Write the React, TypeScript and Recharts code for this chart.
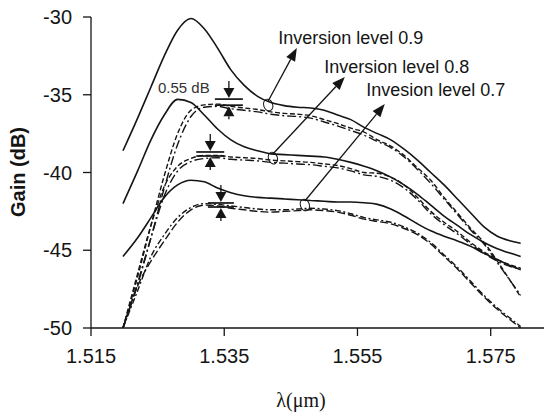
import { LineChart, Line, XAxis, YAxis } from "recharts";

// wavelength grid (µm) shared by every curve
const wavelength = [
  1.5198, 1.522, 1.524, 1.526, 1.528, 1.53, 1.532, 1.534, 1.536, 1.538, 1.54,
  1.542, 1.544, 1.546, 1.548, 1.55, 1.552, 1.554, 1.556, 1.558, 1.56, 1.562,
  1.564, 1.566, 1.568, 1.57, 1.572, 1.574, 1.576, 1.578, 1.5795,
];

// gain (dB), solid = model, dashed / dash-dot = the two comparison curves
const solid09 = [
  -38.6, -36.5, -34.5, -32.5, -30.85, -30.1, -30.75, -32.0, -33.4, -34.4, -35.1,
  -35.5, -35.7, -35.8, -35.85, -36.0, -36.3, -36.6, -37.1, -37.5, -37.9, -38.5,
  -39.2, -40.0, -40.8, -41.7, -42.6, -43.5, -44.1, -44.4, -44.55,
];
const dashed09 = [
  -50.0, -46.7, -43.4, -40.2, -37.5, -36.0, -35.65, -35.6, -35.75, -35.85,
  -35.95, -36.1, -36.2, -36.25, -36.35, -36.6, -36.85, -37.15, -37.4, -37.9,
  -38.3, -38.9, -39.7, -40.5, -41.6, -42.6, -43.6, -44.5, -45.7, -47.0, -48.0,
];
const dashDot09 = [
  -50.0, -47.2, -44.2, -41.0, -38.2, -36.4, -35.8, -35.75, -35.9, -36.0, -36.1,
  -36.25, -36.35, -36.4, -36.5, -36.75, -37.0, -37.3, -37.6, -38.0, -38.4,
  -39.0, -39.8, -40.7, -41.7, -42.7, -43.7, -44.6, -45.8, -47.0, -47.9,
];

const solid08 = [
  -42.0, -39.9, -37.9, -36.3, -35.3, -35.5, -36.3, -37.2, -37.9, -38.35, -38.6,
  -38.8, -38.85, -38.9, -38.95, -39.0, -39.15, -39.35, -39.6, -39.9, -40.3,
  -40.8, -41.4, -42.1, -42.8, -43.4, -44.0, -44.5, -44.9, -45.2, -45.4,
];
const dashed08 = [
  -50.0, -46.5, -43.4, -40.9, -39.6, -39.1, -38.9, -38.9, -39.0, -39.05, -39.1,
  -39.2, -39.25, -39.3, -39.35, -39.45, -39.55, -39.75, -40.0, -40.05, -40.3,
  -40.8, -41.6, -42.5, -43.2, -43.8, -44.5, -45.1, -45.6, -45.95, -46.15,
];
const dashDot08 = [
  -50.0, -47.1, -44.2, -41.5, -39.9, -39.3, -39.1, -39.05, -39.15, -39.2,
  -39.25, -39.35, -39.4, -39.45, -39.5, -39.6, -39.7, -39.9, -40.15, -40.25,
  -40.5, -41.0, -41.75, -42.65, -43.35, -43.95, -44.6, -45.2, -45.7, -46.05,
  -46.2,
];

const solid07 = [
  -45.4, -44.2, -42.9, -41.6, -40.8, -40.5, -40.6, -41.0, -41.3, -41.5, -41.6,
  -41.65, -41.7, -41.75, -41.8, -41.85, -41.9, -41.9, -41.95, -42.05, -42.35,
  -42.8, -43.3, -43.75, -44.1, -44.4, -44.75, -45.2, -45.6, -46.0, -46.25,
];
const dashed07 = [
  -50.0, -47.3, -45.7, -44.4, -43.2, -42.4, -42.1, -42.15, -42.3, -42.4, -42.5,
  -42.55, -42.5, -42.45, -42.4, -42.45, -42.55, -42.75, -43.0, -43.15, -43.3,
  -43.6, -44.0, -44.6, -45.4, -46.2, -47.1, -48.0, -48.8, -49.5, -50.0,
];
const dashDot07 = [
  -50.0, -47.6, -45.4, -44.0, -42.9, -42.25, -42.0, -42.05, -42.15, -42.25,
  -42.35, -42.4, -42.4, -42.35, -42.3, -42.35, -42.45, -42.65, -42.9, -43.05,
  -43.2, -43.5, -43.9, -44.5, -45.3, -46.1, -47.0, -47.9, -48.7, -49.4, -49.9,
];

const xTicks = [1.515, 1.535, 1.555, 1.575];
const yTicks = [-50, -45, -40, -35, -30];

// 0.55 dB style spread markers: x position, upper and lower bar (dB)
const spreadMarks = [
  { x: 1.5357, hi: -35.28, lo: -35.67, half: 14 },
  { x: 1.5329, hi: -38.68, lo: -38.94, half: 14 },
  { x: 1.5345, hi: -41.96, lo: -42.22, half: 13 },
];

// callouts: ring on the curves, arrow tip, label anchor
const callouts = [
  { label: "Inversion level 0.9", at: [1.5416, -35.66], tip: [1.5459, -31.99], text: [1.5431, -31.74] },
  { label: "Inversion level 0.8", at: [1.5423, -39.07], tip: [1.5531, -33.86], text: [1.55, -33.6] },
  { label: "Invesion level 0.7", at: [1.5471, -42.09], tip: [1.5591, -35.6], text: [1.5563, -35.08] },
];

const W = 544;
const H = 417;
const Y_AXIS_W = 91;
const X_AXIS_H = 89;
const TOP = 17;
const X_DOMAIN: [number, number] = [1.515, 1.583];
const Y_DOMAIN: [number, number] = [-50, -30];

const PLOT_L = Y_AXIS_W;
const PLOT_R = W;
const PLOT_T = TOP;
const PLOT_B = H - X_AXIS_H;

const px = (x: number) =>
  PLOT_L + ((x - X_DOMAIN[0]) / (X_DOMAIN[1] - X_DOMAIN[0])) * (PLOT_R - PLOT_L);
const py = (y: number) =>
  PLOT_T + ((Y_DOMAIN[1] - y) / (Y_DOMAIN[1] - Y_DOMAIN[0])) * (PLOT_B - PLOT_T);

const rows = wavelength.map((x, i) => ({
  x,
  s09: solid09[i],
  d09: dashed09[i],
  dd09: dashDot09[i],
  s08: solid08[i],
  d08: dashed08[i],
  dd08: dashDot08[i],
  s07: solid07[i],
  d07: dashed07[i],
  dd07: dashDot07[i],
}));

const INK = "#151515";
const SANS = "'Liberation Sans', Arial, sans-serif";

const series = [
  { key: "s09", dash: undefined },
  { key: "d09", dash: "5 2.5" },
  { key: "dd09", dash: "9 3 2 3" },
  { key: "s08", dash: undefined },
  { key: "d08", dash: "5 2.5" },
  { key: "dd08", dash: "9 3 2 3" },
  { key: "s07", dash: undefined },
  { key: "d07", dash: "8 3" },
  { key: "dd07", dash: "6 2.5 2 2.5" },
];

function Arrow({ x1, y1, x2, y2, head = 10, wide = 4 }: { x1: number; y1: number; x2: number; y2: number; head?: number; wide?: number }) {
  const dx = x2 - x1;
  const dy = y2 - y1;
  const len = Math.hypot(dx, dy);
  const ux = dx / len;
  const uy = dy / len;
  const bx = x2 - ux * head;
  const by = y2 - uy * head;
  return (
    <g>
      <line x1={x1} y1={y1} x2={bx} y2={by} stroke={INK} strokeWidth={1.3} />
      <polygon
        points={`${x2},${y2} ${bx - uy * wide},${by + ux * wide} ${bx + uy * wide},${by - ux * wide}`}
        fill={INK}
      />
    </g>
  );
}

function Annotations() {
  return (
    <svg width={W} height={H} style={{ position: "absolute", left: 0, top: 0, pointerEvents: "none" }}>
      <text
        transform={`translate(25, 172) rotate(-90)`}
        textAnchor="middle"
        fontFamily={SANS}
        fontWeight="bold"
        fontSize={20}
        fill={INK}
      >
        Gain (dB)
      </text>
      <text x={301} y={407} textAnchor="middle" fontFamily="'Liberation Serif', 'Times New Roman', serif" fontSize={20} fill={INK}>
        λ(μm)
      </text>

      <text x={158} y={93} fontFamily={SANS} fontSize={15} fill="#333">
        0.55 dB
      </text>
      {spreadMarks.map((m, i) => {
        const cx = px(m.x);
        const yh = py(m.hi);
        const yl = py(m.lo);
        return (
          <g key={i}>
            <line x1={cx - m.half} x2={cx + m.half} y1={yh} y2={yh} stroke={INK} strokeWidth={1.7} />
            <line x1={cx - m.half} x2={cx + m.half} y1={yl} y2={yl} stroke={INK} strokeWidth={1.7} />
            <Arrow x1={cx} y1={yh - 18} x2={cx} y2={yh - 1} head={10} wide={5.5} />
            <Arrow x1={cx} y1={yl + 14} x2={cx} y2={yl + 1} head={10} wide={5.5} />
          </g>
        );
      })}

      {callouts.map((c) => {
        const ex = px(c.at[0]);
        const ey = py(c.at[1]);
        const tx = px(c.tip[0]);
        const ty = py(c.tip[1]);
        return (
          <g key={c.label}>
            <ellipse cx={ex} cy={ey} rx={4.5} ry={6} fill="none" stroke={INK} strokeWidth={1} transform={`rotate(-20 ${ex} ${ey})`} />
            <Arrow x1={ex} y1={ey - 4} x2={tx} y2={ty} head={13} wide={5} />
            <text x={px(c.text[0])} y={py(c.text[1])} fontFamily={SANS} fontSize={18} fill={INK}>
              {c.label}
            </text>
          </g>
        );
      })}
    </svg>
  );
}

export default function App() {
  return (
    <div style={{ position: "absolute", left: 0, top: 0, width: W, height: H, background: "#fff" }}>
      <LineChart width={W} height={H} data={rows} margin={{ top: TOP, right: 0, bottom: 0, left: 0 }}>
        <XAxis
          dataKey="x"
          type="number"
          domain={X_DOMAIN}
          allowDataOverflow
          ticks={xTicks}
          tickFormatter={(v: number) => v.toFixed(3)}
          height={X_AXIS_H}
          tickSize={8}
          tickMargin={13}
          axisLine={{ stroke: INK, strokeWidth: 1.3 }}
          tickLine={{ stroke: INK, strokeWidth: 1.3 }}
          tick={{ fill: INK, fontSize: 20, fontFamily: SANS }}
        />
        <YAxis
          type="number"
          domain={Y_DOMAIN}
          allowDataOverflow
          ticks={yTicks}
          width={Y_AXIS_W}
          tickSize={8}
          tickMargin={11}
          axisLine={{ stroke: INK, strokeWidth: 1.3 }}
          tickLine={{ stroke: INK, strokeWidth: 1.3 }}
          tick={{ fill: INK, fontSize: 20, fontFamily: SANS }}
        />
        {series.map((s) => (
          <Line
            key={s.key}
            dataKey={s.key}
            type="monotone"
            stroke={INK}
            strokeWidth={s.dash ? 1.4 : 1.6}
            strokeDasharray={s.dash}
            dot={false}
            activeDot={false}
            isAnimationActive={false}
          />
        ))}
      </LineChart>
      <Annotations />
    </div>
  );
}
